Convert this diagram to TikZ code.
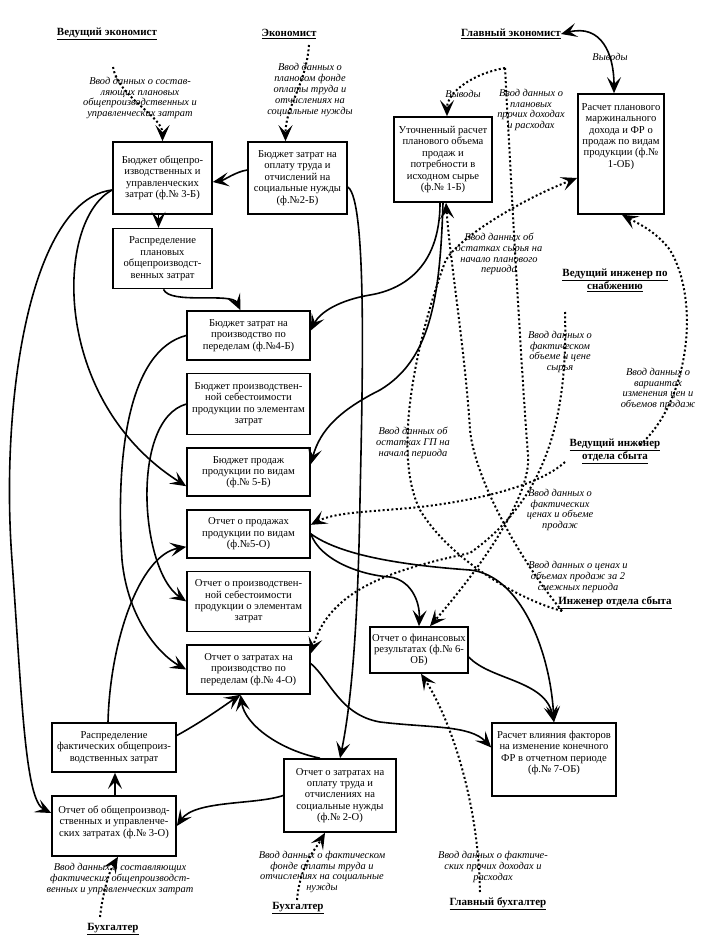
\documentclass[tikz,border=0pt]{standalone}
\usepackage{fontspec}
\setmainfont{Liberation Serif}
\usetikzlibrary{arrows.meta,positioning}

\newcommand\boxfont{\fontsize{10.6}{11.4}\selectfont}
\newcommand\notefont{\fontsize{10.4}{10.8}\selectfont\itshape}
\newcommand\rolefont{\fontsize{11}{12}\selectfont\bfseries}

\begin{document}
\begin{tikzpicture}[x=1pt, y=-1pt, node distance=12pt,
  >={Stealth[length=16pt,width=14pt,inset=7pt]},
  box/.style = {draw, line width=1.6pt, align=center, inner sep=2pt, font=\boxfont},
  note/.style = {align=center, inner sep=0pt, font=\notefont},
  role/.style = {align=center, inner sep=0pt, font=\rolefont},
  flow/.style = {line width=1.6pt, ->},
  feed/.style = {line width=2pt, dash pattern=on 2pt off 2.4pt, ->}]
\useasboundingbox (0,0) rectangle (705,949);

% roles
\node[role] (t_ve) at (107,34) {\underline{Ведущий экономист}};
\node[role] (t_ec) at (289,34) {\underline{Экономист}};
\node[role] (t_ge) at (511,34) {\underline{Главный экономист}};
\node[role] (t_snab) at (615,280) {\underline{Ведущий инженер по}\\\underline{снабжению}};
\node[role] (t_vsb) at (615,451) {\underline{Ведущий инженер}\\\underline{отдела сбыта}};
\node[role] (t_isb) at (615,603) {\underline{Инженер отдела сбыта}};
\node[role] (t_buh1) at (113,929) {\underline{Бухгалтер}};
\node[role] (t_buh2) at (298,908) {\underline{Бухгалтер}};
\node[role] (t_gb) at (498,904) {\underline{Главный бухгалтер}};

% plan boxes
\node[box, minimum width=99pt, minimum height=72pt] (b3) at (162.5,178) {Бюджет общепро-\\изводственных и\\управленческих\\затрат (ф.№ 3-Б)};
\node[box, minimum width=99pt, minimum height=60pt] (rplan) [below=13pt of b3] {Распределение\\плановых\\общепроизводст-\\венных затрат};
\node[box, minimum width=99pt, minimum height=72pt] (b2) at (297.5,178) {Бюджет затрат на\\оплату труда и\\отчислений на\\социальные нужды\\(ф.№2-Б)};
\node[box, minimum width=98pt, minimum height=85pt] (b1) at (443,159.5) {Уточненный расчет\\планового объема\\продаж и\\потребности в\\исходном сырье\\(ф.№ 1-Б)};
\node[box, minimum width=86pt, minimum height=120pt] (ob1) at (621,154) {Расчет планового\\маржинального\\дохода и ФР о\\продаж по видам\\продукции (ф.№\\1-ОБ)\\[26pt]\mbox{}};

% middle column
\node[box, minimum width=123pt, minimum height=49pt] (b4) at (248.5,335.5) {Бюджет затрат на\\производство по\\переделам (ф.№4-Б)};
\node[box, minimum width=123pt, minimum height=61pt] (bseb) [below=of b4] {Бюджет производствен-\\ной себестоимости\\продукции по элементам\\затрат};
\node[box, minimum width=123pt, minimum height=48pt] (b5) [below=of bseb] {Бюджет продаж\\продукции по видам\\(ф.№ 5-Б)};
\node[box, minimum width=123pt, minimum height=48pt] (o5) [below=of b5] {Отчет о продажах\\продукции по видам\\(ф.№5-О)};
\node[box, minimum width=123pt, minimum height=60pt] (oseb) [below=of o5] {Отчет о производствен-\\ной себестоимости\\продукции о элементам\\затрат};
\node[box, minimum width=123pt, minimum height=49pt] (o4) [below=of oseb] {Отчет о затратах на\\производство по\\переделам (ф.№ 4-О)};

% report boxes
\node[box, minimum width=98pt, minimum height=46pt] (ob6) at (419,650) {Отчет о финансовых\\результатах (ф.№ 6-\\ОБ)};
\node[box, minimum width=124pt, minimum height=73pt] (ob7) at (554,759.5) {Расчет влияния факторов\\на изменение конечного\\ФР в отчетном периоде\\(ф.№ 7-ОБ)\\[4pt]\mbox{}};
\node[box, minimum width=124pt, minimum height=49pt] (rfact) at (114,747.5) {Распределение\\фактических общепроиз-\\водственных затрат};
\node[box, minimum width=124pt, minimum height=60pt] (o3) at (114,826) {Отчет об общепроизвод-\\ственных и управленче-\\ских затратах (ф.№ 3-О)\\[-1pt]\mbox{}};
\node[box, minimum width=112pt, minimum height=73pt] (o2) at (340,795.5) {Отчет о затратах на\\оплату труда и\\отчислениях на\\социальные нужды\\(ф.№ 2-О)};

% notes
\node[note] (n1) at (140,98) {Ввод данных о состав-\\ляющих плановых\\общепроизводственных и\\управленческих затрат};
\node[note] (n2) at (310,90) {Ввод данных о\\плановом фонде\\оплаты труда и\\отчислениях на\\социальные нужды};
\node[note] (n3) at (463,94) {Выводы};
\node[note] (n4) at (531,110) {Ввод данных о\\плановых\\прочих доходах\\и расходах};
\node[note] (n5) at (610,57) {Выводы};
\node[note] (n6) at (499,254) {Ввод данных об\\остатках сырья на\\начало планового\\периода};
\node[note] (n7) at (560,352) {Ввод данных о\\фактическом\\объеме и цене\\сырья};
\node[note] (n8) at (658,389) {Ввод данных о\\вариантах\\изменения цен и\\объемов продаж};
\node[note] (n9) at (413,443) {Ввод данных об\\остатках ГП на\\начало периода};
\node[note] (n10) at (560,510) {Ввод данных о\\фактических\\ценах и объеме\\продаж};
\node[note] (n11) at (578,577) {Ввод данных о ценах и\\объемах продаж за 2\\смежных периода};
\node[note] (n12) at (120,879) {Ввод данных о составляющих\\фактических общепроизводст-\\венных и управленческих затрат};
\node[note] (n13) at (322,872) {Ввод данных о фактическом\\фонде оплаты труда и\\отчислениях на социальные\\нужды};
\node[note] (n14) at (493,867) {Ввод данных о фактиче-\\ских прочих доходах и\\расходах};

% free ends of the input lines
\coordinate (c_ve) at (113,67);
\coordinate (c_ec) at (309,45);
\coordinate (c_ge) at (505,68);
\coordinate (c_snab) at (565,312);
\coordinate (c_vsb1) at (565,462);
\coordinate (c_vsb2) at (640,445);
\coordinate (c_isb) at (562,611);
\coordinate (c_gb) at (480,892);
\coordinate (c_buh1) at (100,917);
\coordinate (c_buh2) at (297,900);

% solid flows
\draw[flow] ([yshift=-12pt]b3.west) .. controls (30,200) and (0,400) .. (12,560) .. controls (22,700) and (25,800) .. ([yshift=13pt]o3.west);
\draw[flow] ([yshift=-12pt]b3.west) .. controls (55,220) and (50,400) .. ([yshift=-14pt]b5.west);
\draw[flow] (b4.west) .. controls (130,350) and (115,450) .. (122,560) .. controls (128,620) and (160,655) .. (o4.west);
\draw[flow] (bseb.west) .. controls (130,420) and (140,570) .. (oseb.west);
\draw[flow] ([xshift=-6pt]rfact.north) .. controls (110,640) and (140,555) .. ([yshift=-13pt]o5.west);
\draw[flow] ([yshift=12pt]rfact.east) .. controls (205,720) and (225,705) .. ([xshift=-8pt]o4.south);
\draw[flow] ([xshift=1pt]o3.north) -- ([xshift=1pt]rfact.south);
\draw[flow] (o2.west) .. controls (255,805) and (195,800) .. (o3.east);
\draw[flow] ([xshift=-20pt]o2.north) .. controls (280,750) and (245,725) .. ([xshift=-8pt]o4.south);
\draw[flow] ([yshift=-9pt]b2.east) .. controls (368,200) and (362,400) .. (360,500) .. controls (358,620) and (352,700) .. (o2.north);
\draw[flow] ([yshift=8pt]b2.west) .. controls (235,172) and (225,180) .. ([yshift=-4pt]b3.east);
\draw[flow] ([xshift=-4pt]b3.south) -- ([xshift=-4pt]rplan.north);
\draw[flow] ([xshift=1pt]rplan.south) .. controls (170,305) and (232,292) .. ([xshift=-8pt]b4.north);
\draw[flow] ([xshift=-3pt]b1.south) .. controls (440,270) and (400,290) .. (370,295) .. controls (340,300) and (320,312) .. ([yshift=5pt]b4.east);
\draw[flow] (b1.south) .. controls (440,300) and (430,360) .. (380,390) .. controls (340,410) and (320,430) .. ([yshift=8pt]b5.east);
\draw[flow] (o5.east) .. controls (320,560) and (360,575) .. (390,577) .. controls (410,580) and (420,600) .. (ob6.north);
\draw[flow] (o5.east) .. controls (340,555) and (400,565) .. (470,570) .. controls (520,575) and (550,650) .. (ob7.north);
\draw[flow] ([yshift=-7pt]ob6.east) .. controls (490,680) and (545,680) .. (ob7.north);
\draw[flow] ([yshift=6pt]o4.east) .. controls (330,680) and (340,715) .. (380,722) .. controls (430,728) and (470,725) .. ([yshift=12pt]ob7.west);
\draw[line width=1.6pt, <->] (t_ge.east) .. controls +(40,-10) and +(0,-40) .. ([xshift=-7pt]ob1.north);

% input lines
\draw[feed] (c_ve) .. controls +(5,30) and +(0,-25) .. (b3.north);
\draw[feed] (c_ec) .. controls +(-3,40) and +(0,-35) .. ([xshift=-12pt]b2.north);
\draw[feed] (c_ge) .. controls +(-30,5) and +(0,-25) .. ([xshift=4pt]b1.north);
\draw[feed] (c_ge) .. controls (512,200) and (522,380) .. (528,455) .. controls (532,500) and (470,580) .. ([xshift=11pt]ob6.north);
\draw[feed] (c_snab) .. controls (568,420) and (545,500) .. (470,553) .. controls (390,570) and (330,590) .. ([yshift=16pt]o4.east);
\draw[feed] (c_vsb1) .. controls (540,485) and (480,500) .. (420,507) .. controls (370,512) and (335,512) .. ([yshift=9pt]o5.east);
\draw[feed] (c_vsb2) .. controls (690,400) and (700,300) .. (670,250) .. controls (655,230) and (635,222) .. ([xshift=1pt]ob1.south);
\draw[feed] (c_isb) .. controls (520,560) and (475,480) .. (470,430) .. controls (465,350) and (450,260) .. ([xshift=3pt]b1.south);
\draw[feed] (c_isb) .. controls (520,600) and (450,560) .. (420,510) .. controls (390,450) and (420,330) .. (445,262) .. controls (455,240) and (520,200) .. ([yshift=-24pt]ob1.west);
\draw[feed] (c_gb) .. controls (478,790) and (445,710) .. ([xshift=2pt]ob6.south);
\draw[feed] (c_buh1) .. controls (103,890) and (110,870) .. ([xshift=4pt]o3.south);
\draw[feed] (c_buh2) .. controls (300,865) and (315,850) .. ([xshift=-15pt]o2.south);
\end{tikzpicture}
\end{document}
